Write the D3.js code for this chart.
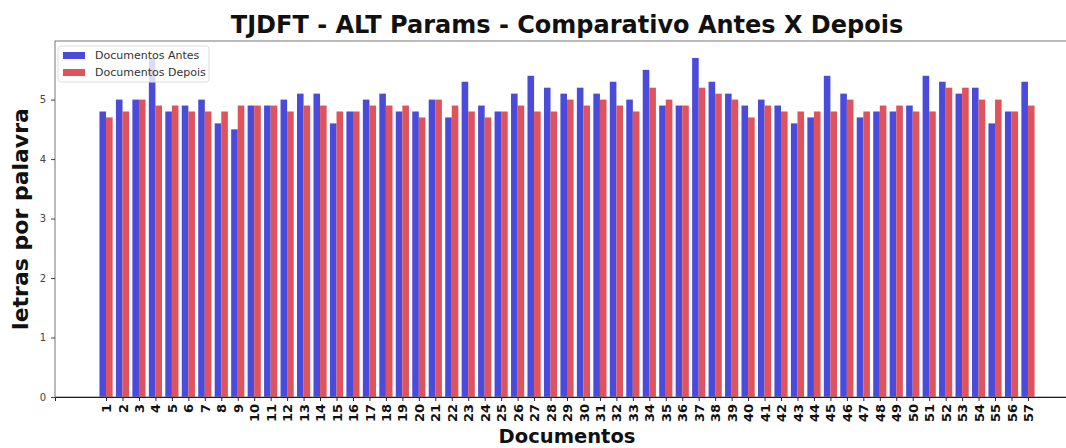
<!DOCTYPE html>
<html>
<head>
<meta charset="utf-8">
<script src="https://cdn.jsdelivr.net/npm/d3@7"></script>
<style>
  body { margin: 0; background: #fff; }
  text { font-family: "DejaVu Sans", sans-serif; }
</style>
</head>
<body>
<div id="chart"></div>
<script>
const docs = ['1','2','3','4','5','6','7','8','9','10','11','12','13','14','15','16','17','18','19','20',
  '21','22','23','24','25','26','27','28','29','30','31','32','33','34','35','36','37','38','39','40',
  '41','42','43','44','45','46','47','48','49','50','51','52','53','54','55','56','57'];

const antes = [4.8, 5.0, 5.0, 5.7, 4.8, 4.9, 5.0, 4.6, 4.5, 4.9,
  4.9, 5.0, 5.1, 5.1, 4.6, 4.8, 5.0, 5.1, 4.8, 4.8,
  5.0, 4.7, 5.3, 4.9, 4.8, 5.1, 5.4, 5.2, 5.1, 5.2,
  5.1, 5.3, 5.0, 5.5, 4.9, 4.9, 5.7, 5.3, 5.1, 4.9,
  5.0, 4.9, 4.6, 4.7, 5.4, 5.1, 4.7, 4.8, 4.8, 4.9,
  5.4, 5.3, 5.1, 5.2, 4.6, 4.8, 5.3];

const depois = [4.7, 4.8, 5.0, 4.9, 4.9, 4.8, 4.8, 4.8, 4.9, 4.9,
  4.9, 4.8, 4.9, 4.9, 4.8, 4.8, 4.9, 4.9, 4.9, 4.7,
  5.0, 4.9, 4.8, 4.7, 4.8, 4.9, 4.8, 4.8, 5.0, 4.9,
  5.0, 4.9, 4.8, 5.2, 5.0, 4.9, 5.2, 5.1, 5.0, 4.7,
  4.9, 4.8, 4.8, 4.8, 4.8, 5.0, 4.8, 4.9, 4.9, 4.8,
  4.8, 5.2, 5.2, 5.0, 5.0, 4.8, 4.9];

const yTicks = [0, 1, 2, 3, 4, 5];
const seriesNames = ['Documentos Antes', 'Documentos Depois'];
const colors = ['#4b4bdb', '#e0535d'];

const width = 1066;
const height = 448;
const margin = { top: 41, bottom: 51, left: 55, right: -13 };
const barW = 0.4;

const svg = d3.select('#chart')
  .append('svg')
  .attr('width', width)
  .attr('height', height);

const x = d3.scaleLinear()
  .domain([1 - 3.1, docs.length + 3.1])
  .range([margin.left, width - margin.right]);

const y = d3.scaleLinear()
  .domain([0, 5.985])
  .range([height - margin.bottom, margin.top]);

const rows = docs.map((d, i) => ({ pos: i + 1, label: d, antes: antes[i], depois: depois[i] }));

// blue bars sit left of the tick, red ones right of it
svg.append('g')
  .attr('fill', colors[0])
  .selectAll('rect')
  .data(rows)
  .join('rect')
    .attr('x', d => x(d.pos - barW))
    .attr('y', d => y(d.antes))
    .attr('width', x(barW) - x(0))
    .attr('height', d => y(0) - y(d.antes));

svg.append('g')
  .attr('fill', colors[1])
  .selectAll('rect')
  .data(rows)
  .join('rect')
    .attr('x', d => x(d.pos))
    .attr('y', d => y(d.depois))
    .attr('width', x(barW) - x(0))
    .attr('height', d => y(0) - y(d.depois));

// frame
svg.append('rect')
  .attr('x', margin.left)
  .attr('y', margin.top)
  .attr('width', width - margin.right - margin.left)
  .attr('height', y(0) - margin.top)
  .attr('fill', 'none')
  .attr('stroke', '#777')
  .attr('stroke-width', 1);

function yAxis(g) {
  g.attr('transform', `translate(${margin.left},0)`)
    .call(d3.axisLeft(y).tickValues(yTicks).tickFormat(d3.format('d')).tickSize(4).tickPadding(5))
    .call(g => g.select('.domain').remove())
    .attr('font-size', '10px')
    .attr('color', '#444');
}

function xAxis(g) {
  g.attr('transform', `translate(0,${y(0)})`)
    .call(d3.axisBottom(x).tickValues(rows.map(d => d.pos)).tickFormat((d, i) => docs[i]).tickSize(4))
    .attr('color', '#222')
    .call(g => g.select('.domain').attr('stroke', '#222'))
    .selectAll('text')
      .attr('font-size', '13px')
      .attr('font-weight', 'bold')
      .attr('fill', '#111')
      .attr('text-anchor', 'end')
      .attr('dy', '0.35em')
      .attr('transform', 'translate(0,7) rotate(-90)')
      .attr('y', 0)
      .attr('x', 0);
}

svg.append('g').call(xAxis);
svg.append('g').call(yAxis);

// titles
svg.append('text')
  .attr('x', (margin.left + width - margin.right) / 2)
  .attr('y', 33)
  .attr('text-anchor', 'middle')
  .attr('font-size', '24px')
  .attr('font-weight', 'bold')
  .attr('fill', '#111')
  .text('TJDFT - ALT Params - Comparativo Antes X Depois');

svg.append('text')
  .attr('x', (margin.left + width - margin.right) / 2)
  .attr('y', 443)
  .attr('text-anchor', 'middle')
  .attr('font-size', '19.5px')
  .attr('font-weight', 'bold')
  .attr('fill', '#111')
  .text('Documentos');

svg.append('text')
  .attr('transform', `translate(28,${(margin.top + y(0)) / 2}) rotate(-90)`)
  .attr('text-anchor', 'middle')
  .attr('font-size', '22px')
  .attr('font-weight', 'bold')
  .attr('fill', '#111')
  .text('letras por palavra');

// legend
const legend = svg.append('g').attr('transform', `translate(${margin.left + 3},${margin.top + 5})`);
legend.append('rect')
  .attr('width', 151)
  .attr('height', 36)
  .attr('rx', 3)
  .attr('fill', '#fff')
  .attr('fill-opacity', 0.8)
  .attr('stroke', '#ddd');
seriesNames.forEach((name, i) => {
  legend.append('rect')
    .attr('x', 5)
    .attr('y', 6 + i * 17)
    .attr('width', 22)
    .attr('height', 7)
    .attr('fill', colors[i]);
  legend.append('text')
    .attr('x', 37)
    .attr('y', 13 + i * 17)
    .attr('font-size', '11px')
    .attr('fill', '#333')
    .text(name);
});
</script>
</body>
</html>
